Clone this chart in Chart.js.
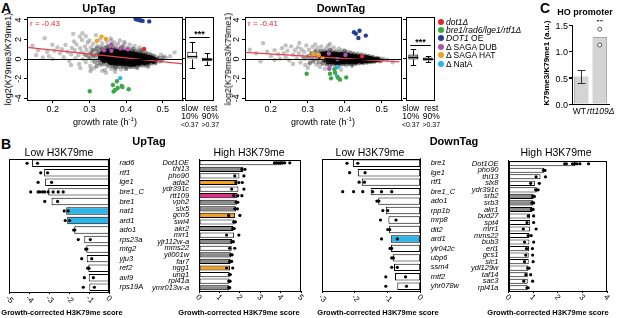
<!DOCTYPE html>
<html><head><meta charset="utf-8">
<script src="https://cdn.jsdelivr.net/npm/chart.js@4"></script>
<style>
body{margin:0;width:617px;height:318px;position:relative;background:#fff;overflow:hidden;font-family:'Liberation Sans',Arial,sans-serif;}
.t{position:absolute;white-space:nowrap;color:#000;line-height:1;}
canvas{position:absolute;}
</style></head><body>
<script>
// ---------------- DATA ----------------
const scatterXTicks = [0.2, 0.3, 0.4, 0.5];
const scatterYTicks = [4, 2, 0, -2, -4];

const upGrey = [[0.145,1.36],[0.178,2.14],[0.199,1.46],[0.213,1.2],[0.173,0.18],[0.256,2.58],[0.274,2.3],[0.281,2.65],[0.303,-1.23],[0.305,-1.0],[0.505,0.28],[0.532,0.69],
[0.16,0.9],[0.185,0.75],[0.19,0.3],[0.205,0.85],[0.22,0.6],[0.225,1.0],[0.23,0.2],[0.235,1.45],[0.24,0.75],[0.245,-0.2],[0.25,0.5],[0.252,1.15],[0.258,1.8],[0.26,0.9],[0.262,0.1],[0.265,1.5],[0.27,0.4],[0.272,-0.5],[0.275,1.1],[0.278,0.7],[0.28,1.95],[0.282,0.0],[0.285,0.55],[0.288,1.3],[0.29,-0.3],[0.292,0.95],[0.295,1.7],[0.297,0.25],[0.3,0.6],[0.302,-0.7],[0.304,1.2],[0.306,0.85],[0.308,-0.15],[0.31,1.55],[0.312,0.4],[0.314,-0.9],[0.316,1.0],[0.318,0.15],[0.32,0.7],[0.322,1.35],[0.324,-0.4],[0.326,0.5],[0.328,2.0],[0.33,0.9],[0.332,-0.6],[0.335,1.6],[0.338,-0.2],[0.34,1.25],[0.342,-1.1],[0.345,0.95],[0.348,1.8],[0.35,-0.75],[0.352,1.4],[0.355,-0.4],[0.358,2.1],[0.36,-1.0],[0.362,1.15],[0.365,-0.65],[0.368,1.7],[0.37,-1.3],[0.372,1.3],[0.375,-0.85],[0.378,1.55],[0.38,-0.5],[0.383,1.9],[0.386,-1.05],[0.39,1.35],[0.393,-0.7],[0.396,1.6],[0.4,-0.9],[0.403,1.2],[0.406,-0.6],[0.41,1.5],[0.413,-0.8],[0.416,1.1],[0.42,-0.55],[0.423,1.35],[0.426,-0.7],[0.43,0.95],[0.434,-0.5],[0.437,1.2],[0.44,-0.65],[0.444,0.85],[0.448,-0.45],[0.452,0.7],[0.456,-0.55],[0.46,0.6],[0.464,-0.4],[0.468,0.45],[0.472,-0.3],[0.476,0.35],[0.48,-0.35],[0.485,0.2],[0.49,-0.25],[0.495,0.45],[0.5,-0.1],[0.51,0.1],[0.52,0.3],[0.335,-1.2],[0.3,1.9],[0.29,2.35],[0.318,2.45],[0.36,1.9],[0.395,1.75],[0.25,-0.6],[0.2,0.0],[0.155,0.4],[0.275,-0.9],[0.345,-1.4]];

const upHalo = [[0.31,0.9],[0.31,0.3],[0.315,-0.3],[0.32,1.1],[0.32,0.45],[0.325,-0.1],[0.325,0.75],[0.33,1.2],[0.33,-0.45],[0.335,1.0],[0.34,-0.5],[0.345,1.15],[0.35,-0.55],[0.355,1.05],[0.36,-0.7],[0.365,1.2],[0.37,-0.75],[0.375,1.0],[0.38,-0.75],[0.385,1.1],[0.39,-0.8],[0.395,0.95],[0.4,-0.75],[0.405,1.0],[0.41,-0.8],[0.415,0.85],[0.42,-0.8],[0.425,0.8],[0.43,-0.7],[0.435,0.75],[0.44,-0.6],[0.445,0.65],[0.45,-0.65],[0.455,0.55],[0.46,-0.5],[0.465,0.45],[0.47,-0.45],[0.475,0.3],[0.48,-0.4],[0.485,0.05],[0.49,0.1],[0.495,-0.2],[0.5,0.15],[0.35,1.3],[0.39,1.25],[0.42,1.0],[0.44,0.9],[0.37,-0.95],[0.4,-1.0],[0.43,-0.9],[0.46,-0.75],[0.32,-0.7],[0.3,0.1],[0.305,0.55],[0.29,0.4]];

const upCore = [[0.33,0.4],[0.33,0.1],[0.335,0.6],[0.335,0.25],[0.335,-0.05],[0.34,0.75],[0.34,0.45],[0.34,0.15],[0.34,-0.2],[0.345,0.6],[0.345,0.3],[0.345,0.0],[0.35,0.85],[0.35,0.5],[0.35,0.2],[0.35,-0.15],[0.355,0.7],[0.355,0.35],[0.355,0.05],[0.355,-0.3],[0.36,0.9],[0.36,0.55],[0.36,0.25],[0.36,-0.05],[0.36,-0.4],[0.365,0.7],[0.365,0.4],[0.365,0.1],[0.365,-0.25],[0.37,0.85],[0.37,0.55],[0.37,0.25],[0.37,-0.05],[0.37,-0.45],[0.375,0.65],[0.375,0.35],[0.375,0.05],[0.375,-0.3],[0.38,0.8],[0.38,0.5],[0.38,0.2],[0.38,-0.1],[0.38,-0.45],[0.385,0.6],[0.385,0.3],[0.385,0.0],[0.385,-0.3],[0.39,0.75],[0.39,0.45],[0.39,0.15],[0.39,-0.15],[0.39,-0.5],[0.395,0.6],[0.395,0.3],[0.395,0.0],[0.395,-0.35],[0.4,0.7],[0.4,0.4],[0.4,0.1],[0.4,-0.2],[0.4,-0.5],[0.405,0.55],[0.405,0.25],[0.405,-0.05],[0.405,-0.35],[0.41,0.65],[0.41,0.35],[0.41,0.05],[0.41,-0.25],[0.41,-0.55],[0.415,0.5],[0.415,0.2],[0.415,-0.1],[0.415,-0.4],[0.42,0.6],[0.42,0.3],[0.42,0.0],[0.42,-0.3],[0.42,-0.55],[0.425,0.45],[0.425,0.15],[0.425,-0.15],[0.425,-0.45],[0.43,0.5],[0.43,0.25],[0.43,-0.05],[0.43,-0.35],[0.435,0.4],[0.435,0.1],[0.435,-0.2],[0.435,-0.45],[0.44,0.45],[0.44,0.2],[0.44,-0.1],[0.44,-0.35],[0.445,0.3],[0.445,0.05],[0.445,-0.25],[0.45,0.35],[0.45,0.1],[0.45,-0.15],[0.45,-0.4],[0.455,0.25],[0.455,0.0],[0.455,-0.3],[0.46,0.2],[0.46,-0.05],[0.46,-0.3],[0.465,0.15],[0.465,-0.15],[0.47,0.1],[0.47,-0.15],[0.475,0.0],[0.475,-0.25],[0.48,-0.1]];

const upDot1 = [[0.449,1.03]];
const upBre = [[0.301,-3.28],[0.375,-2.27],[0.364,-2.64],[0.388,-2.74],[0.377,-2.95],[0.37,-3.15],[0.366,-3.31],[0.407,-3.08],[0.39,-2.85]];
const upDot1OE = [[0.426,4.1],[0.43,4.05],[0.435,4.0],[0.44,3.95],[0.445,3.9],[0.463,3.85]];
const upDub = [[0.36,1.5],[0.36,0.85],[0.385,1.1],[0.405,1.0],[0.34,0.9]];
const upHat = [[0.32,1.85],[0.333,2.3],[0.345,2.05]];
const upNatA = [[0.384,-1.94]];
const upFit = [[0.13,1.19],[0.555,-0.49]];
const upR = 'r = -0.43';

const downGrey = [[0.143,0.96],[0.179,1.63],[0.172,-0.22],[0.277,1.64],[0.498,-0.22],[0.53,-0.32],[0.16,0.6],[0.19,0.75],[0.2,0.3],[0.21,0.9],[0.22,0.5],[0.225,0.05],[0.23,1.1],[0.235,0.6],[0.24,0.2],[0.245,0.85],[0.25,-0.15],[0.255,1.3],[0.26,0.45],[0.265,0.9],[0.27,0.1],[0.273,1.2],[0.276,0.6],[0.28,-0.35],[0.283,1.0],[0.286,0.3],[0.29,0.75],[0.293,-0.6],[0.296,1.4],[0.3,0.15],[0.303,0.95],[0.306,-0.3],[0.31,0.6],[0.313,1.25],[0.316,-0.1],[0.32,0.85],[0.323,-0.55],[0.326,1.1],[0.33,0.3],[0.333,-0.8],[0.336,1.3],[0.34,-0.4],[0.343,0.9],[0.346,-1.0],[0.35,1.15],[0.353,-0.6],[0.356,1.4],[0.36,-0.75],[0.363,0.95],[0.366,-0.5],[0.37,1.2],[0.373,-0.85],[0.376,0.85],[0.38,-0.6],[0.384,1.05],[0.388,-0.7],[0.392,0.9],[0.396,-0.5],[0.4,0.8],[0.404,-0.65],[0.408,0.75],[0.412,-0.45],[0.416,0.7],[0.42,-0.55],[0.425,0.6],[0.43,-0.45],[0.435,0.55],[0.44,-0.4],[0.445,0.5],[0.45,-0.35],[0.455,0.4],[0.46,-0.3],[0.465,0.3],[0.47,-0.3],[0.475,0.25],[0.48,-0.25],[0.485,0.15],[0.49,-0.15],[0.495,0.1],[0.505,0.05],[0.515,-0.05],[0.3,-0.9],[0.32,1.5],[0.36,1.55],[0.26,-0.5],[0.21,-0.1],[0.39,-1.1],[0.24,1.4]];

const downHalo = [[0.31,0.55],[0.31,0.1],[0.315,-0.25],[0.32,0.75],[0.32,0.35],[0.325,0.0],[0.33,0.7],[0.33,-0.35],[0.335,0.85],[0.34,-0.45],[0.345,0.75],[0.35,-0.5],[0.355,0.8],[0.36,-0.55],[0.365,0.75],[0.37,-0.5],[0.375,0.7],[0.38,-0.55],[0.385,0.7],[0.39,-0.5],[0.395,0.65],[0.4,-0.5],[0.405,0.6],[0.41,-0.5],[0.415,0.6],[0.42,-0.45],[0.425,0.5],[0.43,-0.45],[0.435,0.45],[0.44,-0.4],[0.445,0.4],[0.45,-0.4],[0.455,0.35],[0.46,-0.35],[0.465,0.3],[0.47,-0.3],[0.475,0.2],[0.48,-0.25],[0.485,0.1],[0.49,0.05],[0.495,-0.2],[0.5,-0.05],[0.3,0.3],[0.29,0.05],[0.305,-0.45],[0.36,0.95],[0.4,0.85],[0.38,-0.75],[0.42,-0.65]];

const downCore = [[0.335,0.45],[0.335,0.15],[0.34,0.55],[0.34,0.3],[0.34,0.05],[0.345,0.4],[0.345,0.15],[0.345,-0.1],[0.35,0.6],[0.35,0.35],[0.35,0.1],[0.355,0.45],[0.355,0.2],[0.355,-0.05],[0.355,-0.3],[0.36,0.55],[0.36,0.3],[0.36,0.05],[0.36,-0.2],[0.365,0.45],[0.365,0.2],[0.365,-0.05],[0.365,-0.3],[0.37,0.55],[0.37,0.3],[0.37,0.05],[0.37,-0.2],[0.375,0.4],[0.375,0.15],[0.375,-0.1],[0.375,-0.35],[0.38,0.5],[0.38,0.25],[0.38,0.0],[0.38,-0.25],[0.385,0.4],[0.385,0.15],[0.385,-0.1],[0.385,-0.35],[0.39,0.5],[0.39,0.25],[0.39,0.0],[0.39,-0.2],[0.395,0.4],[0.395,0.15],[0.395,-0.1],[0.395,-0.3],[0.4,0.45],[0.4,0.2],[0.4,-0.05],[0.4,-0.3],[0.405,0.35],[0.405,0.1],[0.405,-0.15],[0.41,0.4],[0.41,0.15],[0.41,-0.1],[0.41,-0.3],[0.415,0.3],[0.415,0.05],[0.415,-0.2],[0.42,0.35],[0.42,0.1],[0.42,-0.15],[0.42,-0.3],[0.425,0.25],[0.425,0.0],[0.425,-0.2],[0.43,0.3],[0.43,0.05],[0.43,-0.15],[0.43,-0.3],[0.435,0.2],[0.435,0.0],[0.435,-0.2],[0.44,0.25],[0.44,0.05],[0.44,-0.15],[0.445,0.15],[0.445,-0.05],[0.445,-0.25],[0.45,0.2],[0.45,0.0],[0.45,-0.2],[0.455,0.1],[0.455,-0.1],[0.46,0.15],[0.46,-0.05],[0.46,-0.2],[0.465,0.05],[0.465,-0.15],[0.47,0.05],[0.47,-0.1],[0.475,0.0],[0.475,-0.15],[0.48,-0.05],[0.485,-0.1],[0.49,-0.05]];

const downDot1 = [[0.447,0.28]];
const downBre = [[0.297,-1.5],[0.36,-1.5],[0.372,-1.06],[0.374,-1.4],[0.363,-1.97],[0.382,-1.9],[0.387,-2.1],[0.404,-1.87]];
const downDot1OE = [[0.425,2.75],[0.43,2.6],[0.44,2.9],[0.437,2.15],[0.457,2.4]];
const downDub = [[0.357,0.56],[0.402,0.42],[0.358,-0.99],[0.38,0.0]];
const downHat = [[0.315,0.55],[0.33,0.42],[0.34,0.05]];
const downNatA = [[0.38,-0.83],[0.379,-1.74]];
const downFit = [[0.128,0.69],[0.548,-0.29]];
const downR = 'r = -0.41';

const boxLabels = [['slow','10%','<0.37'],['rest','90%','>0.37']];
// [min, q1, median, q3, max]
const upSlowBox = [-0.89, 0.05, 0.35, 0.73, 1.7];
const upRestBox = [-0.66, -0.22, -0.05, 0.12, 0.62];
const downSlowBox = [-0.65, -0.05, 0.25, 0.45, 1.05];
const downRestBox = [-0.35, -0.15, 0.0, 0.15, 0.35];

const legendNames = ['<i>dot1Δ</i>','<i>bre1/rad6/lge1/rtf1Δ</i>','<i>DOT1</i> OE','Δ SAGA DUB','Δ SAGA HAT','Δ NatA'];
const legendColors = ['#e3262d','#3aa844','#263d96','#b24fae','#f4a11d','#2cb5e8'];

// Panel C
const cLabels = ['WT','rtt109Δ'];
const cValues = [0.52, 1.27];
const cErr = [[0.40, 0.64], null];
const cReps = [[null, 1.12],[null, 1.42]];
const cTicks = [0, 0.5, 1.0, 1.5];

// Panel B
const lowUpRows = ['rad6','rtf1','lge1','bre1_C','bre1','nat1','ard1','ado1','rps23a','mtg2','yju3','ref2','avl9','rps19A'];
const lowUpMean = [-3.85,-3.25,-3.2,-3.05,-2.88,-2.15,-2.1,-1.75,-1.25,-1.15,-1.13,-1.05,-1.03,-1.0];
const lowUpReps = [[-4.1,-3.58],[-3.42,-3.08],[-3.55,-2.88],[-3.92,-3.55,-3.47,-3.33,-3.22,-3.05,-2.8,-2.55,-2.3],[-3.22,-2.58],[-2.25,-2.05],[-2.2,-1.98],[-1.78,-1.72],[-1.55,-0.95],[-1.18,-1.12],[-1.38,-0.88],[-1.08,-1.02],[-1.25,-0.8],[-1.3,-0.75]];
const lowUpHi = {nat1:'#2cb5e8', ard1:'#2cb5e8'};

const highUpRows = ['Dot1OE','thi13','pho90','ada2','ydr391c','rtt109','vph2','slx5','gcn5','swi4','akr2','mrr1','yjr112w-a','mms22','yil001w','far7','ngg1','ung1','rpl41a','ymr013w-a'];
const highUpMean = [4.05,2.17,1.98,1.88,1.93,1.88,1.85,1.81,1.77,1.73,1.68,1.72,1.63,1.6,1.57,1.55,1.52,1.5,1.49,1.48];
const highUpReps = [[3.7,3.8,3.9,4.0,4.1,4.2,4.45],[2.1,2.25],[1.75,2.2],[1.8,1.95,2.12],[1.6,2.2],[1.7,1.9,2.1],[1.82,1.9],[1.75,1.88],[1.45,2.0],[1.7,1.78],[1.65,1.72],[1.35,1.95],[1.6,1.68],[1.5,1.75],[1.55,1.62],[1.5,1.6],[1.35,1.65],[1.48,1.53],[1.46,1.52],[1.45,1.5]];
const highUpHi = {ada2:'#f4a11d', gcn5:'#f4a11d', ngg1:'#f4a11d', rtt109:'#e0308c', thi13:'#8c8c8c', vph2:'#8c8c8c', slx5:'#8c8c8c', akr2:'#8c8c8c', 'yjr112w-a':'#8c8c8c', yil001w:'#8c8c8c', far7:'#8c8c8c', 'ymr013w-a':'#8c8c8c'};

const lowDownRows = ['bre1','lge1','rtf1','bre1_C','ado1','rpp1b','mrp8','dit2','ard1','ylr042c','ubp6','ssm4','mtf2','yhr078w'];
const lowDownMean = [-2.06,-1.91,-1.79,-1.52,-1.29,-1.06,-0.98,-0.96,-0.91,-0.9,-0.85,-0.81,-0.78,-0.71];
const lowDownReps = [[-2.24,-1.91],[-2.16,-1.69],[-1.87,-1.71],[-2.37,-2.04,-1.76,-1.46,-1.19,-0.88],[-1.33,-1.27],[-1.15,-1.0],[-1.22,-0.75],[-1.0,-0.94],[-1.19,-0.71],[-0.93,-0.88],[-0.88,-0.83],[-0.88,-0.71],[-1.06,-0.46],[-1.06,-0.43]];
const lowDownHi = {ard1:'#2cb5e8'};

const highDownRows = ['Dot1OE','pho90','thi13','slx8','ydr391c','srb2','srb3','akr1','bud27','spt4','mrr1','mms22','bub3','erl1','gcs1','sic1','ydl129w','taf14','sac3','rpl41a'];
const highDownMean = [2.7,1.45,1.3,1.07,1.15,1.02,1.0,0.97,0.88,0.88,0.88,0.85,0.85,0.83,0.82,0.82,0.8,0.78,0.78,0.78];
const highDownReps = [[2.28,2.35,2.6,2.7,2.78,2.9,3.25],[1.42,1.48],[1.12,1.5],[0.9,1.25],[1.1,1.2],[0.98,1.05],[0.95,1.02],[0.93,1.0],[0.8,1.02],[0.75,1.02],[0.6,1.12],[0.8,0.92],[0.65,1.02],[0.73,0.97],[0.7,0.98],[0.65,1.0],[0.78,0.83],[0.7,0.9],[0.62,0.98],[0.75,0.8]];
const highDownHi = {srb2:'#8c8c8c', srb3:'#8c8c8c', akr1:'#8c8c8c'};

// ---------------- SETUP ----------------
const FF = "'Liberation Sans', Arial, sans-serif";
Chart.defaults.font.family = FF;
Chart.defaults.color = '#000';
Chart.defaults.animation = false;

const framePlugin = {id:'frame', defaults:{on:false,color:'#000',width:1},
  afterDatasetsDraw(c,a,o){ if(!o.on) return; const ctx=c.ctx, r=c.chartArea; ctx.save(); ctx.strokeStyle=o.color; ctx.lineWidth=o.width;
    ctx.strokeRect(Math.round(r.left)+0.5, Math.round(r.top)+0.5, Math.round(r.right)-Math.round(r.left)-1, Math.round(r.bottom)-Math.round(r.top)); ctx.restore(); }};
const rotYPlugin = {id:'rotY', defaults:{on:false, dx:6, font:'9px '+FF},
  afterDraw(c,a,o){ if(!o.on) return; const s=c.scales.y, ctx=c.ctx; ctx.save(); ctx.font=o.font; ctx.fillStyle='#000'; ctx.textAlign='center'; ctx.textBaseline='middle';
    s.ticks.forEach(t=>{ const y=s.getPixelForValue(t.value); ctx.save(); ctx.translate(s.left+o.dx, y); ctx.rotate(-Math.PI/2); ctx.fillText(String(t.value),0,0); ctx.restore(); }); ctx.restore(); }};
const rotXPlugin = {id:'rotX', defaults:{on:false, font:'8px '+FF},
  afterDraw(c,a,o){ if(!o.on) return; const s=c.scales.x, ctx=c.ctx; ctx.save(); ctx.font=o.font; ctx.fillStyle='#000'; ctx.textAlign='left'; ctx.textBaseline='middle';
    s.ticks.forEach(t=>{ const x=s.getPixelForValue(t.value); ctx.save(); ctx.translate(x-2, s.top+5); ctx.rotate(Math.PI/4); ctx.fillText(String(t.value),0,0); ctx.restore(); }); ctx.restore(); }};
const xLabPlugin = {id:'xLab', defaults:{on:false, size:9, dx:[], styles:[]},
  afterDraw(c,a,o){ if(!o.on) return; const s=c.scales.x, ctx=c.ctx; ctx.save(); ctx.fillStyle='#000'; ctx.textAlign='center'; ctx.textBaseline='top';
    c.data.labels.forEach((lab,i)=>{ ctx.font=(o.styles[i]||'normal')+' '+o.size+'px '+FF; ctx.fillText(lab, s.getPixelForValue(i)+(o.dx[i]||0), s.top+3); }); ctx.restore(); }};
const zeroPlugin = {id:'zero', defaults:{on:false, value:0, color:'#000'},
  afterDatasetsDraw(c,a,o){ if(!o.on) return; const ctx=c.ctx, r=c.chartArea, y=Math.round(c.scales.y.getPixelForValue(o.value))+0.5; ctx.save(); ctx.strokeStyle=o.color; ctx.lineWidth=1; ctx.beginPath(); ctx.moveTo(r.left,y); ctx.lineTo(r.right,y); ctx.stroke(); ctx.restore(); }};
const noteP = {id:'note', defaults:{text:null, color:'#e3262d', font:'8px '+FF},
  afterDraw(c,a,o){ if(!o.text) return; const ctx=c.ctx, r=c.chartArea; ctx.save(); ctx.font=o.font; ctx.fillStyle=o.color; ctx.textBaseline='top'; ctx.fillText(o.text, r.left+3, r.top+3); ctx.restore(); }};
const boxP = {id:'boxW', afterDatasetsDraw(c){ c.data.datasets.forEach((ds,di)=>{ if(!ds.stats) return; const meta=c.getDatasetMeta(di), ys=c.scales.y, ctx=c.ctx;
    meta.data.forEach((bar,i)=>{ const st=ds.stats[i]; const x=Math.round(bar.x)+0.5, w=bar.width; const py=v=>Math.round(ys.getPixelForValue(v))+0.5; const cw=w*0.55;
      ctx.save(); ctx.strokeStyle='#000'; ctx.lineWidth=1; ctx.beginPath();
      ctx.moveTo(x,py(st[3])); ctx.lineTo(x,py(st[4])); ctx.moveTo(x,py(st[1])); ctx.lineTo(x,py(st[0]));
      ctx.moveTo(x-cw/2,py(st[4])); ctx.lineTo(x+cw/2,py(st[4])); ctx.moveTo(x-cw/2,py(st[0])); ctx.lineTo(x+cw/2,py(st[0]));
      ctx.stroke(); ctx.beginPath(); ctx.strokeStyle='#000'; ctx.lineWidth=1.2; ctx.moveTo(x-w/2,py(st[2])); ctx.lineTo(x+w/2,py(st[2])); ctx.stroke(); ctx.restore(); }); }); }};
const sigP = {id:'sig', defaults:{text:null, value:0, line:true, font:'bold 9px '+FF, i0:0, i1:1},
  afterDraw(c,a,o){ if(!o.text) return; const ctx=c.ctx, xs=c.scales.x, ys=c.scales.y; const x0=xs.getPixelForValue(o.i0), x1=xs.getPixelForValue(o.i1); const y=ys.getPixelForValue(o.value);
    ctx.save(); ctx.fillStyle='#000'; ctx.strokeStyle='#000'; ctx.font=o.font; ctx.textAlign='center'; ctx.textBaseline='alphabetic';
    ctx.fillText(o.text,(x0+x1)/2,y+2); if(o.line){ ctx.beginPath(); ctx.moveTo(x0-3,Math.round(y)+2.5); ctx.lineTo(x1+3,Math.round(y)+2.5); ctx.lineWidth=1; ctx.stroke(); } ctx.restore(); }};
const errP = {id:'errb', afterDatasetsDraw(c){ c.data.datasets.forEach((ds,di)=>{ if(!ds.err) return; const meta=c.getDatasetMeta(di), ys=c.scales.y, ctx=c.ctx;
    meta.data.forEach((bar,i)=>{ const e=ds.err[i]; if(!e) return; const x=Math.round(bar.x)+0.5, cw=bar.width*0.55; const y0=Math.round(ys.getPixelForValue(e[0]))+0.5, y1=Math.round(ys.getPixelForValue(e[1]))+0.5;
      ctx.save(); ctx.strokeStyle='#333'; ctx.lineWidth=1; ctx.beginPath(); ctx.moveTo(x,y0); ctx.lineTo(x,y1); ctx.moveTo(x-cw/2,y0); ctx.lineTo(x+cw/2,y0); ctx.moveTo(x-cw/2,y1); ctx.lineTo(x+cw/2,y1); ctx.stroke(); ctx.restore(); }); }); }};
Chart.register(framePlugin, rotYPlugin, rotXPlugin, xLabPlugin, zeroPlugin, noteP, boxP, sigP, errP);

function place(config, box){
  const cv = document.createElement('canvas');
  document.body.appendChild(cv);
  const w0 = box.r-box.l+120, h0 = box.b-box.t+120;
  cv.width=w0; cv.height=h0; cv.style.width=w0+'px'; cv.style.height=h0+'px';
  config.options = Object.assign({responsive:false, maintainAspectRatio:false, animation:false, devicePixelRatio:1}, config.options);
  const ch = new Chart(cv, config);
  let a = ch.chartArea;
  const ml=a.left, mt=a.top, mr=w0-a.right, mb=h0-a.bottom;
  ch.resize(Math.round(box.r-box.l+ml+mr), Math.round(box.b-box.t+mt+mb));
  a = ch.chartArea;
  const ox = box.l-a.left, oy = box.t-a.top;
  cv.style.left=ox+'px'; cv.style.top=oy+'px';
  ch.$ox = ox; ch.$oy = oy;
  return ch;
}
function T(html, x, y, css, anchor){
  const d=document.createElement('div'); d.className='t'; d.innerHTML=html;
  d.style.left=x+'px'; d.style.top=y+'px';
  let tr = anchor==='lt' ? '' : (anchor==='lm' ? 'translate(0,-50%)' : (anchor==='rm' ? 'translate(-100%,-50%)' : 'translate(-50%,-50%)'));
  if(css && css.rot) tr += ' rotate(-90deg)';
  d.style.transform=tr; if(css) Object.assign(d.style, css.s||{});
  document.body.appendChild(d); return d;
}
const pts = arr => arr.map(p=>({x:p[0], y:p[1]}));

// ---------------- PANEL A scatters ----------------
function scatterCfg(grey, halo, core, groups, fit, rtxt){
  const ds = [];
  groups.forEach(g=>ds.push({type:'scatter', data:pts(g[0]), backgroundColor:g[1], borderWidth:0, pointRadius:2.2}));
  ds.push({type:'line', data:pts(fit), borderColor:'#e8414a', borderWidth:1.3, pointRadius:0, fill:false});
  ds.push({type:'scatter', data:pts(core), backgroundColor:'rgba(0,0,0,0.85)', borderWidth:0, pointRadius:2.5});
  ds.push({type:'scatter', data:pts(halo), backgroundColor:'rgba(60,60,60,0.5)', borderWidth:0, pointRadius:2.2});
  ds.push({type:'scatter', data:pts(grey), backgroundColor:'rgba(120,120,120,0.45)', borderWidth:0, pointRadius:2.2});
  return {type:'scatter', data:{datasets:ds}, options:{
    layout:{padding:0}, plugins:{legend:{display:false}, tooltip:{enabled:false}, frame:{on:true}, rotY:{on:true, dx:5}, zero:{on:true}, note:{text:rtxt}},
    scales:{
      x:{type:'linear', min:0.13, max:0.555, afterBuildTicks:s=>{s.ticks=scatterXTicks.map(v=>({value:v}));},
         ticks:{font:{size:9}, padding:1, callback:v=>v.toFixed(1), autoSkip:false, maxRotation:0},
         grid:{drawOnChartArea:false, tickLength:3, color:'#000'}, border:{color:'#000'}},
      y:{type:'linear', min:-4.2, max:4.3, afterBuildTicks:s=>{s.ticks=scatterYTicks.map(v=>({value:v}));},
         ticks:{display:false}, afterFit:s=>{s.width=13;},
         grid:{drawOnChartArea:false, tickLength:3, color:'#000'}, border:{color:'#000'}}
    }}};
}
const G = (a)=>a.map((p,i)=>[p, legendColors[i]]);
place(scatterCfg(upGrey, upHalo, upCore, G([upDot1,upBre,upDot1OE,upDub,upHat,upNatA]), upFit, upR), {l:27,t:17,r:183,b:100});
place(scatterCfg(downGrey, downHalo, downCore, G([downDot1,downBre,downDot1OE,downDub,downHat,downNatA]), downFit, downR), {l:245,t:17,r:402,b:100});

function boxCfg(sBox, rBox, fills, sigVal){
  return {type:'bar', data:{labels:boxLabels, datasets:[{data:[[sBox[1],sBox[3]],[rBox[1],rBox[3]]], stats:[sBox,rBox], backgroundColor:fills, borderColor:'#000', borderWidth:1, borderSkipped:false, barPercentage:0.72, categoryPercentage:0.95}]},
    options:{layout:{padding:0}, plugins:{legend:{display:false}, tooltip:{enabled:false}, frame:{on:true}, sig:{text:'***', value:sigVal}},
      scales:{x:{ticks:{display:false}, afterFit:s=>{s.height=4;}, grid:{display:false}, border:{color:'#000'}},
        y:{min:-4.2, max:4.3, afterBuildTicks:s=>{s.ticks=scatterYTicks.map(v=>({value:v}));}, ticks:{display:false}, afterFit:s=>{s.width=3;},
          grid:{drawOnChartArea:false, tickLength:3, color:'#000'}, border:{color:'#000'}}}}};
}
const bx1 = place(boxCfg(upSlowBox, upRestBox, ['#fff','#9a9a9a'], 2.5), {l:185,t:17,r:214,b:100});
const bx2 = place(boxCfg(downSlowBox, downRestBox, ['#a0a0a0','#111'], 1.6), {l:406,t:17,r:435,b:100});
[bx1, bx2].forEach(ch=>{
  boxLabels.forEach((lines,i)=>{
    const cx = ch.$ox + ch.scales.x.getPixelForValue(i) + (i===0?-2.5:3.5);
    T(lines[0], cx, 108, {s:{font:'8.5px '+FF}});
    T(lines[1], cx, 116, {s:{font:'8.5px '+FF}});
    T(lines[2], cx, 124, {s:{font:'7px '+FF}});
  });
});

// text panel A
T('A', 1, 0, {s:{font:'bold 14px '+FF}}, 'lt');
T('UpTag', 99, 8, {s:{font:'bold 11px '+FF}});
T('DownTag', 341, 8, {s:{font:'bold 11px '+FF}});
T('log2(K79me3/K79me1)', 8, 59, {rot:1, s:{font:'9px '+FF}});
T('log2(K79me3/K79me1)', 228, 59, {rot:1, s:{font:'9px '+FF}});
T('growth rate (h<sup style="font-size:6px">-1</sup>)', 105, 121, {s:{font:'9px '+FF}});
T('growth rate (h<sup style="font-size:6px">-1</sup>)', 323, 121, {s:{font:'9px '+FF}});
legendNames.forEach((n,i)=>{
  const y = 21.5 + i*8.4;
  T('', 441, y, {s:{width:'6px',height:'6px',borderRadius:'50%',background:legendColors[i]}});
  T(n, 446, y, {s:{font:'8.5px '+FF}}, 'lm');
});

// ---------------- PANEL B ----------------
function hbarCfg(rows, means, reps, hi, xmin, xmax, side){
  const cols = rows.map(r=>hi[r]||'#ffffff');
  const dots = []; rows.forEach((r,i)=>reps[i].forEach(v=>dots.push({x:v,y:r})));
  return {type:'bar', data:{labels:rows, datasets:[
      {type:'scatter', data:dots, backgroundColor:'#000', borderWidth:0, pointRadius:1.6},
      {indexAxis:'y', data:means, backgroundColor:cols, borderColor:'#000', borderWidth:1, borderSkipped:false, barPercentage:0.78, categoryPercentage:1}]},
    options:{indexAxis:'y', layout:{padding:0}, plugins:{legend:{display:false}, tooltip:{enabled:false}, frame:{on:true}, rotX:{on:true}},
      scales:{x:{type:'linear', min:xmin, max:xmax, ticks:{stepSize:1, autoSkip:false, display:false}, afterFit:s=>{s.height=16;},
          grid:{drawOnChartArea:false, tickLength:2, color:'#000'}, border:{color:'#000'}},
        y:{type:'category', labels:rows, position:side, ticks:{font:{size:7.5, style:'italic'}, padding:2, autoSkip:false},
          grid:{display:false}, border:{color:'#000'}}}}};
}
place(hbarCfg(lowUpRows, lowUpMean, lowUpReps, lowUpHi, -5, 0, 'right'), {l:9,t:158,r:109,b:291});
place(hbarCfg(highUpRows, highUpMean, highUpReps, highUpHi, 0, 5, 'left'), {l:199,t:159,r:301,b:290});
place(hbarCfg(lowDownRows, lowDownMean, lowDownReps, lowDownHi, -3, 0, 'right'), {l:322,t:158,r:421,b:290});
place(hbarCfg(highDownRows, highDownMean, highDownReps, highDownHi, 0, 4, 'left'), {l:509,t:160,r:607,b:290});

T('B', 1, 136, {s:{font:'bold 14px '+FF}}, 'lt');
T('UpTag', 149, 141, {s:{font:'bold 11px '+FF}});
T('DownTag', 454, 141, {s:{font:'bold 11px '+FF}});
T('Low H3K79me', 59, 152, {s:{font:'10.5px '+FF}});
T('High H3K79me', 249, 152, {s:{font:'10.5px '+FF}});
T('Low H3K79me', 370, 152, {s:{font:'10.5px '+FF}});
T('High H3K79me', 556, 152, {s:{font:'10.5px '+FF}});
const xl = 'Growth-corrected H3K79me score';
T(xl, 62, 312, {s:{font:'bold 7.5px '+FF}});
T(xl, 239, 312, {s:{font:'bold 7.5px '+FF}});
T(xl, 378, 312, {s:{font:'bold 7.5px '+FF}});
T(xl, 548, 312, {s:{font:'bold 7.5px '+FF}});

// ---------------- PANEL C (last, on top) ----------------
const cBox = {l:572,t:25,r:609,b:104};
const cChart = place({type:'bar', data:{labels:cLabels, datasets:[
    {type:'scatter', data:cReps[0], backgroundColor:'#fff', borderColor:'#555', borderWidth:1, pointRadius:2},
    {type:'scatter', data:cReps[1], backgroundColor:'#fff', borderColor:'#555', borderWidth:1, pointRadius:2},
    {data:cValues, err:cErr, backgroundColor:'#d4d4d4', borderColor:'#a8a8a8', borderWidth:1, borderSkipped:false, barPercentage:0.78, categoryPercentage:1}]},
  options:{layout:{padding:0}, plugins:{legend:{display:false}, tooltip:{enabled:false}, sig:{text:'**', value:1.55, line:false, i0:1, i1:1},
      xLab:{on:true, size:8.5, dx:[-2,1], styles:['normal','italic']}},
    scales:{x:{ticks:{display:false}, afterFit:s=>{s.height=14;}, grid:{display:false}, border:{color:'#000'}},
      y:{min:0, max:1.5, afterBuildTicks:s=>{s.ticks=cTicks.map(v=>({value:v}));}, ticks:{display:false}, afterFit:s=>{s.width=20;},
        grid:{drawOnChartArea:false, tickLength:3, color:'#000'}, border:{color:'#000'}}}}}, cBox);
T('C', 540, 0, {s:{font:'bold 14px '+FF}}, 'lt');
T('HO promoter', 585, 12, {s:{font:'bold 9px '+FF}});
T('K79me3/K79me1 (a.u.)', 546, 63, {rot:1, s:{font:'bold 8px '+FF}});
(function(){
  const s = cChart.scales.y;
  const ax = cBox.l;
  const yTop = Math.round(cChart.$oy + s.getPixelForValue(cTicks[cTicks.length-1]));
  const yBot = Math.round(cChart.$oy + s.getPixelForValue(cTicks[0]));
  T('', ax, yTop, {s:{width:'1px', height:(yBot-yTop+1)+'px', background:'#000'}}, 'lt');
  cTicks.forEach(v=>{
    const py = Math.round(cChart.$oy + s.getPixelForValue(v));
    T('', ax-3, py, {s:{width:'3px', height:'1px', background:'#000'}}, 'lt');
    T(v.toFixed(1), ax-4, py+0.5, {s:{font:'9px '+FF}}, 'rm');
  });
})();
</script>
</body></html>
